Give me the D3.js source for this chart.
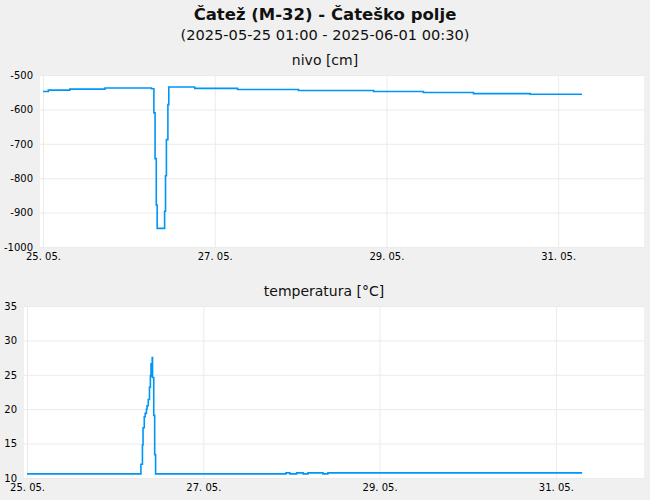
<!DOCTYPE html>
<html>
<head>
<meta charset="utf-8">
<script src="https://cdn.jsdelivr.net/npm/d3@7"></script>
<style>
  body { margin: 0; background: #f0f0f0; }
  svg { display: block; font-family: "DejaVu Sans", sans-serif; }
</style>
</head>
<body>
<div id="chart"></div>
<script>
const title = "Čatež (M-32) - Čateško polje",
  subtitle = "(2025-05-25 01:00 - 2025-06-01 00:30)";

const timeDomain = ["2025-05-24T23:10", "2025-06-01T00:00"];
const dayTicks = ["2025-05-25", "2025-05-27", "2025-05-29", "2025-05-31"];

// nivo [cm], step series (value holds until next time)
const nivoTimes = ["2025-05-25T00:00", "2025-05-25T01:30", "2025-05-25T07:30", "2025-05-25T17:20",
  "2025-05-26T06:20", "2025-05-26T07:00", "2025-05-26T07:20", "2025-05-26T07:40", "2025-05-26T07:55",
  "2025-05-26T10:00", "2025-05-26T10:15", "2025-05-26T10:30", "2025-05-26T10:55", "2025-05-26T11:10",
  "2025-05-26T18:25", "2025-05-27T06:25", "2025-05-27T23:25", "2025-05-28T20:25", "2025-05-29T10:20",
  "2025-05-30T00:20", "2025-05-30T16:10", "2025-05-31T06:40"];
const nivoValues = [-548, -544, -541, -538,
  -540, -610, -743, -878, -946,
  -896, -793, -688, -586, -535,
  -539, -542, -545, -548, -551,
  -554, -556, -556];
const nivoTicks = [-500, -600, -700, -800, -900, -1000];

// temperatura [°C]
const tempTimes = ["2025-05-25T00:00", "2025-05-26T07:00", "2025-05-26T07:25", "2025-05-26T07:35",
  "2025-05-26T07:55", "2025-05-26T08:10", "2025-05-26T08:30", "2025-05-26T08:40", "2025-05-26T09:00",
  "2025-05-26T09:20", "2025-05-26T09:35", "2025-05-26T09:45", "2025-05-26T09:55", "2025-05-26T10:05",
  "2025-05-26T10:10", "2025-05-26T10:30", "2025-05-26T10:45", "2025-05-26T11:00",
  "2025-05-27T22:30", "2025-05-27T23:35", "2025-05-28T01:25", "2025-05-28T03:10", "2025-05-28T04:30",
  "2025-05-28T08:35", "2025-05-28T09:55", "2025-05-31T07:10"];
const tempValues = [10.6, 12.0, 14.8, 17.3,
  18.9, 19.4, 20.0, 20.5, 21.4,
  23.2, 24.9, 26.6, 24.8, 27.5,
  24.6, 19.1, 13.4, 10.6,
  10.75, 10.6, 10.75, 10.6, 10.75,
  10.6, 10.75, 10.75];
const tempTicks = [10, 15, 20, 25, 30, 35];

const width = 650, height = 500;
const lineColor = "#0096f5", gridColor = "#ebebeb";

const svg = d3.select("#chart").append("svg")
  .attr("width", width)
  .attr("height", height);

svg.append("text")
  .attr("x", width / 2).attr("y", 20)
  .attr("text-anchor", "middle")
  .style("font-size", "16.5px").style("font-weight", "bold")
  .style("fill", "#111")
  .text(title);

svg.append("text")
  .attr("x", width / 2).attr("y", 39.5)
  .attr("text-anchor", "middle")
  .style("font-size", "14.6px")
  .style("fill", "#111")
  .text(subtitle);

function drawPanel(opts) {
  const { top, left, right, bottom, label, times, values, yDomain, yTicks } = opts;
  const x = d3.scaleTime()
    .domain(timeDomain.map(d => new Date(d)))
    .range([left, right]);
  const y = d3.scaleLinear()
    .domain(yDomain)
    .range([bottom, top]);

  const g = svg.append("g");

  g.append("rect")
    .attr("x", left).attr("y", top)
    .attr("width", right - left).attr("height", bottom - top)
    .style("fill", "#fff");

  svg.append("text")
    .attr("x", (left + right) / 2 + (opts.titleShift || 0)).attr("y", top - 10.5)
    .attr("text-anchor", "middle")
    .style("font-size", "14px")
    .style("fill", "#111")
    .text(label);

  // grid + axes
  const xAxis = g.append("g")
    .attr("transform", `translate(0,${bottom})`)
    .call(d3.axisBottom(x)
      .tickValues(dayTicks.map(d => new Date(d + "T00:00")))
      .tickSize(-(bottom - top))
      .tickPadding(6)
      .tickFormat(d3.timeFormat("%d. %m.")));
  xAxis.select(".domain").remove();
  xAxis.selectAll("line").style("stroke", gridColor);
  xAxis.selectAll("text").style("font-size", "10px").style("fill", "#000")
    .style("font-family", "DejaVu Sans");

  const yAxis = g.append("g")
    .attr("transform", `translate(${left},0)`)
    .call(d3.axisLeft(y)
      .tickValues(yTicks)
      .tickSize(-(right - left))
      .tickPadding(7)
      .tickFormat(d => String(d)));
  yAxis.select(".domain").remove();
  yAxis.selectAll("line").style("stroke", gridColor);
  yAxis.selectAll("text").style("font-size", "10px").style("fill", "#000")
    .style("font-family", "DejaVu Sans");

  const points = times.map((t, i) => ({ t: new Date(t), v: values[i] }));
  const line = d3.line()
    .x(d => x(d.t))
    .y(d => y(d.v))
    .curve(d3.curveStepAfter);

  g.append("path")
    .datum(points)
    .attr("d", line)
    .style("fill", "none")
    .style("stroke", lineColor)
    .style("stroke-width", 1.6);
}

drawPanel({
  top: 75, bottom: 247, left: 40, right: 644,
  label: "nivo [cm]",
  times: nivoTimes, values: nivoValues,
  yDomain: [-1000, -500], yTicks: nivoTicks,
  titleShift: -17
});

drawPanel({
  top: 306, bottom: 478, left: 24, right: 644,
  label: "temperatura [°C]",
  times: tempTimes, values: tempValues,
  yDomain: [10, 35], yTicks: tempTicks,
  titleShift: -10
});
</script>
</body>
</html>
